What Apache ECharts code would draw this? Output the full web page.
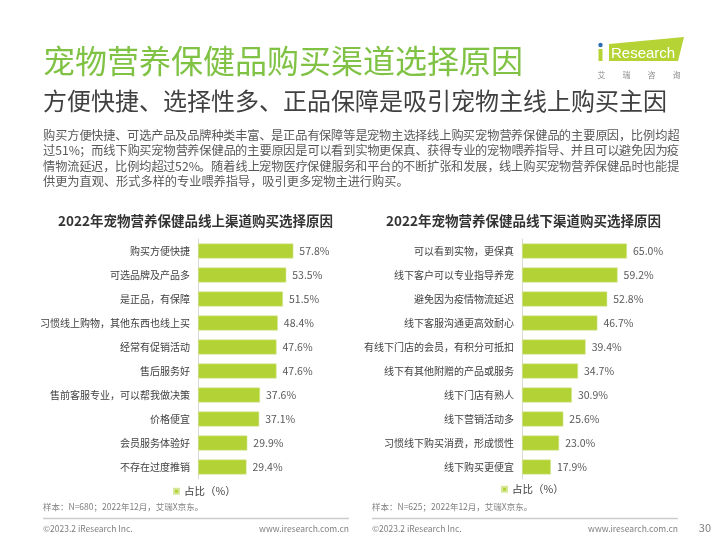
<!DOCTYPE html>
<html>
<head>
<meta charset="utf-8">
<script src="https://cdn.jsdelivr.net/npm/echarts@6/dist/echarts.min.js"></script>
<style>
html,body{margin:0;padding:0;background:#fff;}
#chart{position:absolute;left:0;top:0;width:720px;height:540px;}
</style>
</head>
<body>
<div id="chart"></div>
<script>
// ---- data ----
const onlineCategories = ['购买方便快捷','可选品牌及产品多','是正品，有保障','习惯线上购物，其他东西也线上买','经常有促销活动','售后服务好','售前客服专业，可以帮我做决策','价格便宜','会员服务体验好','不存在过度推销'];
const onlineValues = [57.8,53.5,51.5,48.4,47.6,47.6,37.6,37.1,29.9,29.4];
const offlineCategories = ['可以看到实物，更保真','线下客户可以专业指导养宠','避免因为疫情物流延迟','线下客服沟通更高效耐心','有线下门店的会员，有积分可抵扣','线下有其他附赠的产品或服务','线下门店有熟人','线下营销活动多','习惯线下购买消费，形成惯性','线下购买更便宜'];
const offlineValues = [65.0,59.2,52.8,46.7,39.4,34.7,30.9,25.6,23.0,17.9];
const seriesName = '占比（%）';
const mainTitle = '宠物营养保健品购买渠道选择原因';
const subTitle = '方便快捷、选择性多、正品保障是吸引宠物主线上购买主因';
const bodyLines = [
  '购买方便快捷、可选产品及品牌种类丰富、是正品有保障等是宠物主选择线上购买宠物营养保健品的主要原因，比例均超',
  '过51%；而线下购买宠物营养保健品的主要原因是可以看到实物更保真、获得专业的宠物喂养指导、并且可以避免因为疫',
  '情物流延迟，比例均超过52%。随着线上宠物医疗保健服务和平台的不断扩张和发展，线上购买宠物营养保健品时也能提',
  '供更为直观、形式多样的专业喂养指导，吸引更多宠物主进行购买。'
];
const chartTitles = ['2022年宠物营养保健品线上渠道购买选择原因','2022年宠物营养保健品线下渠道购买选择原因'];
const notes = ['样本：N=680；2022年12月，艾瑞X京东。','样本：N=625；2022年12月，艾瑞X京东。'];
const copyrightText = '©2023.2 iResearch Inc.';
const siteText = 'www.iresearch.com.cn';
const pageNo = '30';

const FONT = "'Noto Sans CJK SC','Microsoft YaHei',sans-serif";
const LIME = '#b2d235';

// justified body text split into small segments
const mctx = document.createElement('canvas').getContext('2d');
function justified(str, x0, x1, y, size, justify) {
  mctx.font = size + 'px ' + FONT;
  const chars = Array.from(str);
  const total = mctx.measureText(str).width;
  const extra = justify ? (x1 - x0 - total) / (chars.length - 1) : 0;
  const segs = []; let cur = '';
  for (const c of chars) {
    cur += c;
    if ('、，；。'.includes(c) || Array.from(cur).length >= 4) { segs.push(cur); cur = ''; }
  }
  if (cur) segs.push(cur);
  let before = '', n = 0; const els = [];
  segs.forEach(s => {
    const x = x0 + mctx.measureText(before).width + n * extra;
    els.push({type:'text', x: x, y: y, silent:true,
      style:{text:s, font: size + 'px ' + FONT, fill:'#595959', textVerticalAlign:'middle'}});
    before += s; n += Array.from(s).length;
  });
  return els;
}

const graphics = [];
graphics.push({type:'text', x:43, y:61, style:{text:mainTitle, font:'32px '+FONT, fill:'#7fc244', textVerticalAlign:'middle'}});
graphics.push({type:'text', x:43, y:101, style:{text:subTitle, font:'24px '+FONT, fill:'#404040', textVerticalAlign:'middle'}});
const lineYs = [135, 150.5, 166, 181.5];
bodyLines.forEach((l, i) => { graphics.push(...justified(l, 43, 679, lineYs[i], 12.2, i < 3)); });

// logo
graphics.push({type:'polygon', shape:{points:[[609,44],[684,37],[678,61],[609,61]]}, style:{fill:'#b5d334'}});
graphics.push({type:'rect', shape:{x:598.5, y:49, width:4, height:12}, style:{fill:'#b5d334'}});
graphics.push({type:'circle', shape:{cx:600.5, cy:45, r:2.2}, style:{fill:'#2c6db5'}});
graphics.push({type:'text', x:611, y:54, style:{text:'Research', font:'15px "Liberation Sans", Arial, sans-serif', fill:'#ffffff', textVerticalAlign:'middle'}});
['艾','瑞','咨','询'].forEach((c, i) => {
  graphics.push({type:'text', x:601.5 + i*25, y:75, style:{text:c, font:'8px '+FONT, fill:'#8c8c8c', textAlign:'center', textVerticalAlign:'middle'}});
});

// chart titles
graphics.push({type:'text', x:195.5, y:221, style:{text:chartTitles[0], font:'bold 13.5px '+FONT, fill:'#333333', textAlign:'center', textVerticalAlign:'middle'}});
graphics.push({type:'text', x:523.5, y:221, style:{text:chartTitles[1], font:'bold 13.5px '+FONT, fill:'#333333', textAlign:'center', textVerticalAlign:'middle'}});

// notes + footer
[[43, 349], [372, 678]].forEach((p, i) => {
  graphics.push({type:'text', x:p[0], y:507, style:{text:notes[i], font:'8.5px '+FONT, fill:'#7f7f7f', textVerticalAlign:'middle'}});
  graphics.push({type:'line', shape:{x1:p[0], y1:518.5, x2:p[1], y2:518.5}, style:{stroke:'#cccccc', lineWidth:1.5}});
  graphics.push({type:'text', x:p[0], y:529, style:{text:copyrightText, font:'8.5px '+FONT, fill:'#7f7f7f', textVerticalAlign:'middle'}});
  graphics.push({type:'text', x:p[1], y:529, style:{text:siteText, font:'8.5px '+FONT, fill:'#7f7f7f', textAlign:'right', textVerticalAlign:'middle'}});
});
graphics.push({type:'text', x:711, y:528, style:{text:pageNo, font:'11px '+FONT, fill:'#7f7f7f', textAlign:'right', textVerticalAlign:'middle'}});

function yAx(idx, cats) {
  return {type:'category', gridIndex:idx, data:cats, inverse:true,
    axisLine:{show:true, lineStyle:{color:'#d9d9d9', width:1}},
    axisTick:{show:false},
    axisLabel:{fontSize:10, color:'#404040', margin:8, fontFamily:FONT}};
}
function xAx(idx) {
  return {type:'value', gridIndex:idx, min:0, max:100, show:false, splitLine:{show:false}};
}
function bar(idx, vals) {
  return {type:'bar', name:seriesName, xAxisIndex:idx, yAxisIndex:idx, data:vals, barWidth:15,
    itemStyle:{color:LIME, borderColor:'#d6e79a', borderWidth:0.6},
    label:{show:true, position:'right', distance:6, fontSize:10.5, color:'#595959', fontFamily:FONT,
      formatter: p => p.value.toFixed(1) + '%'},
    animation:false};
}

const chart = echarts.init(document.getElementById('chart'));
chart.setOption({
  backgroundColor:'#ffffff',
  animation:false,
  textStyle:{fontFamily:FONT},
  grid:[
    {left:198, top:239, width:165, height:240},
    {left:522, top:239, width:161.5, height:240}
  ],
  xAxis:[xAx(0), xAx(1)],
  yAxis:[yAx(0, onlineCategories), yAx(1, offlineCategories)],
  legend:[
    {data:[seriesName], left:168, top:481, icon:'rect', itemWidth:5, itemHeight:5, itemGap:4,
      textStyle:{fontSize:10.5, color:'#404040', fontFamily:FONT}, selectedMode:false},
    {data:[seriesName], left:496, top:479, icon:'rect', itemWidth:5, itemHeight:5, itemGap:4,
      textStyle:{fontSize:10.5, color:'#404040', fontFamily:FONT}, selectedMode:false}
  ],
  series:[bar(0, onlineValues), bar(1, offlineValues)],
  graphic:graphics
});
</script>
</body>
</html>
